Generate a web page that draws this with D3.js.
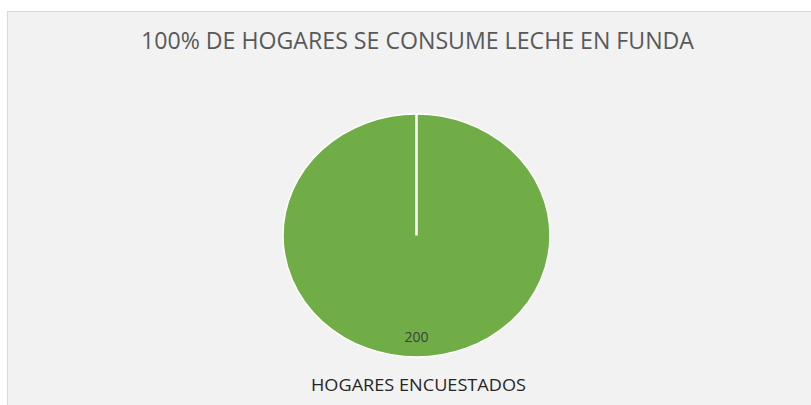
<!DOCTYPE html>
<meta charset="utf-8">
<script src="https://d3js.org/d3.v7.min.js"></script>
<style>
  body { margin: 0; background: #fff; }
  svg { display: block; }
</style>
<body>
<svg width="811" height="405"></svg>
<script>
// data
var title = "100% DE HOGARES SE CONSUME LECHE EN FUNDA";
var categories = ["HOGARES ENCUESTADOS"];
var values = [200];
var colors = ["#70ad47"];

var svg = d3.select("svg"),
    width = +svg.attr("width"),
    height = +svg.attr("height");

// chart area
svg.append("rect")
    .attr("x", 7.5)
    .attr("y", 11.5)
    .attr("width", width)
    .attr("height", height)
    .attr("fill", "#f2f2f2")
    .attr("stroke", "#d9d9d9");

svg.append("text")
    .attr("x", 417.5)
    .attr("y", 49)
    .attr("text-anchor", "middle")
    .attr("font-family", "'Open Sans', sans-serif")
    .attr("font-size", 23.5)
    .attr("fill", "#595959")
    .attr("textLength", 553)
    .attr("lengthAdjust", "spacingAndGlyphs")
    .text(title);

var cx = 416.5, cy = 235.5,
    rx = 133.5, ry = 121.5;

var pie = d3.pie().sort(null);
var arcs = pie(values);
var arc = d3.arc().innerRadius(0).outerRadius(rx);
var labelArc = d3.arc().innerRadius(rx * 0.84).outerRadius(rx * 0.84);

var g = svg.append("g")
    .attr("transform", "translate(" + cx + "," + cy + ") scale(1," + (ry / rx) + ")");

g.selectAll("path")
    .data(arcs)
  .enter().append("path")
    .attr("d", arc)
    .attr("fill", function(d, i) { return colors[i]; })
    .attr("stroke", "#fff")
    .attr("stroke-width", 1.5);

// slice edge (Excel draws the border of the single slice from center to top)
g.selectAll("line")
    .data(arcs)
  .enter().append("line")
    .attr("x1", 0).attr("y1", 0)
    .attr("x2", function(d) { return rx * Math.sin(d.startAngle); })
    .attr("y2", function(d) { return -rx * Math.cos(d.startAngle); })
    .attr("stroke", "#fff")
    .attr("stroke-width", 2.5)
    .attr("vector-effect", "non-scaling-stroke");

// data labels
svg.selectAll(".label")
    .data(arcs)
  .enter().append("text")
    .attr("class", "label")
    .attr("x", function(d) { return cx + labelArc.centroid(d)[0]; })
    .attr("y", function(d) { return cy + labelArc.centroid(d)[1] * ry / rx; })
    .attr("dy", "0.35em")
    .attr("text-anchor", "middle")
    .attr("font-family", "'Open Sans', sans-serif")
    .attr("font-size", 14)
    .attr("fill", "#404040")
    .text(function(d) { return d.value; });

// legend
svg.append("text")
    .attr("x", 418.5)
    .attr("y", 390.5)
    .attr("text-anchor", "middle")
    .attr("font-family", "'Open Sans', sans-serif")
    .attr("font-size", 16)
    .attr("fill", "#262626")
    .attr("textLength", 215)
    .attr("lengthAdjust", "spacingAndGlyphs")
    .text(categories[0]);
</script>
</body>
